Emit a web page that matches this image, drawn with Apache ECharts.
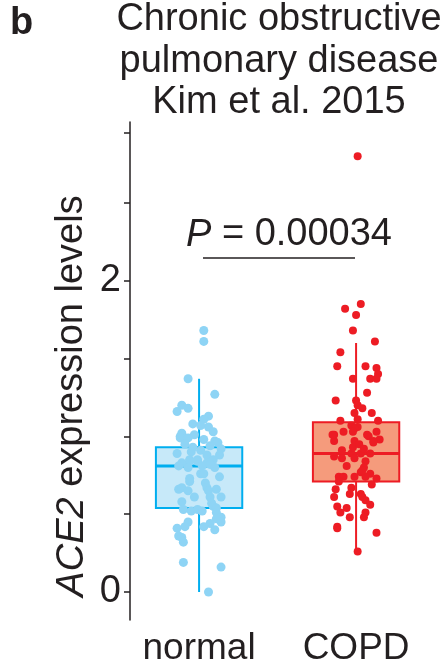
<!DOCTYPE html>
<html>
<head>
<meta charset="utf-8">
<script src="https://cdn.jsdelivr.net/npm/echarts@6/dist/echarts.min.js"></script>
<style>
  html, body { margin: 0; padding: 0; background: #fff; }
  #main { width: 447px; height: 671px; }
</style>
</head>
<body>
<div id="main"></div>
<script>
// groups on the x axis (1 = normal, 2 = COPD)
const categories = ['normal', 'COPD'];
// box stats: [x, lower whisker, Q1, median, Q3, upper whisker]
const normalBox = [1, 0.0, 0.54, 0.81, 0.93, 1.37];
const copdBox = [2, 0.26, 0.71, 0.89, 1.09, 1.60];
// jittered points: [x offset from group centre, ACE2 level]
const normalPoints = [
  [0.03, 1.68], [0.03, 1.61], [-0.07, 1.37], [0.10, 1.27], [-0.11, 1.20], [-0.07, 1.18],
  [-0.14, 1.16], [0.06, 1.13], [0.03, 1.11], [-0.04, 1.08], [0.01, 1.07], [0.06, 1.06],
  [0.09, 1.03], [-0.11, 1.02], [-0.03, 1.01], [-0.12, 1.00], [-0.12, 0.99], [-0.07, 0.99],
  [0.03, 0.98], [0.10, 0.97], [0.12, 0.96], [-0.09, 0.95], [-0.04, 0.93], [0.07, 0.94],
  [0.14, 0.92], [-0.14, 0.89], [-0.05, 0.90], [0.01, 0.91], [0.13, 0.88], [0.05, 0.88],
  [-0.06, 0.85], [-0.01, 0.85], [-0.11, 0.83], [-0.06, 0.84], [-0.01, 0.84], [0.05, 0.83],
  [0.09, 0.85], [0.10, 0.80], [-0.13, 0.81], [-0.07, 0.80], [0.02, 0.81], [0.07, 0.82],
  [0.01, 0.76], [0.03, 0.76], [0.13, 0.74], [-0.06, 0.73], [-0.06, 0.71], [0.04, 0.70],
  [-0.13, 0.66], [-0.11, 0.67], [-0.07, 0.65], [0.05, 0.67], [0.11, 0.66], [0.06, 0.65],
  [-0.03, 0.61], [0.07, 0.61], [0.14, 0.61], [-0.11, 0.58], [0.08, 0.57], [0.09, 0.55],
  [0.11, 0.54], [-0.10, 0.53], [-0.05, 0.52], [-0.01, 0.53], [0.02, 0.52], [0.11, 0.51],
  [0.14, 0.48], [0.11, 0.47], [0.14, 0.45], [-0.07, 0.45], [-0.09, 0.42], [0.07, 0.44],
  [0.03, 0.42], [-0.14, 0.41], [0.10, 0.40], [-0.13, 0.36], [-0.11, 0.35], [-0.10, 0.32],
  [-0.10, 0.19], [0.14, 0.16], [0.06, 0.00]
];
const copdPoints = [
  [0.01, 2.80], [0.03, 1.85], [-0.07, 1.82], [0.00, 1.78], [-0.02, 1.68], [0.12, 1.61],
  [-0.10, 1.54], [-0.12, 1.45], [0.06, 1.45], [0.13, 1.44], [0.14, 1.40], [-0.02, 1.37],
  [0.09, 1.37], [0.13, 1.37], [0.07, 1.28], [-0.13, 1.23], [0.00, 1.23], [0.01, 1.20],
  [0.04, 1.18], [-0.01, 1.15], [0.10, 1.15], [-0.10, 1.10], [0.01, 1.11], [0.14, 1.10],
  [-0.03, 1.07], [0.01, 1.06], [-0.01, 1.05], [-0.08, 1.03], [-0.14, 1.01], [-0.02, 1.03],
  [0.13, 1.03], [0.08, 1.00], [0.15, 0.98], [-0.14, 0.97], [-0.01, 0.97], [0.11, 0.97],
  [-0.09, 0.91], [-0.14, 0.87], [-0.09, 0.86], [-0.03, 0.89], [0.03, 0.89], [0.09, 0.89],
  [-0.01, 0.86], [0.06, 0.84], [-0.06, 0.81], [0.05, 0.80], [0.03, 0.77], [0.09, 0.76],
  [-0.11, 0.74], [-0.08, 0.74], [-0.01, 0.74], [0.06, 0.74], [0.13, 0.73], [0.10, 0.69],
  [-0.03, 0.67], [-0.13, 0.66], [0.03, 0.63], [-0.04, 0.63], [0.04, 0.61], [-0.14, 0.61],
  [0.06, 0.59], [0.09, 0.56], [-0.12, 0.55], [-0.06, 0.54], [-0.10, 0.51], [0.06, 0.51],
  [-0.04, 0.48], [0.05, 0.48], [-0.12, 0.42], [-0.12, 0.41], [0.13, 0.38], [0.01, 0.26],
  [-0.15, 1.01], [0.07, 1.01], [0.11, 0.96], [0.04, 0.78], [-0.11, 0.71], [-0.02, 0.93],
  [0.02, 0.95], [0.05, 0.92]
];
// y axis ticks and labels
const yTicks = [0, 0.5, 1, 1.5, 2, 2.5, 2.95];
const yLabels = [0, 2];
const pValue = '0.00034';

const boxWidth = 0.55;
const dark = '#231f20';
const font = 'Liberation Sans';

function boxRenderer(stroke, fill) {
  return function (params, api) {
    const x = api.value(0);
    const lo = api.coord([x, api.value(1)]);
    const q1 = api.coord([x, api.value(2)]);
    const md = api.coord([x, api.value(3)]);
    const q3 = api.coord([x, api.value(4)]);
    const hi = api.coord([x, api.value(5)]);
    const half = api.size([boxWidth, 0])[0] / 2;
    return {
      type: 'group',
      children: [
        { type: 'line', shape: { x1: lo[0], y1: lo[1], x2: q1[0], y2: q1[1] }, style: { stroke: stroke, lineWidth: 2 } },
        { type: 'line', shape: { x1: q3[0], y1: q3[1], x2: hi[0], y2: hi[1] }, style: { stroke: stroke, lineWidth: 2 } },
        { type: 'rect', shape: { x: q3[0] - half, y: q3[1], width: half * 2, height: q1[1] - q3[1] }, style: { fill: fill, stroke: stroke, lineWidth: 2 } },
        { type: 'line', shape: { x1: md[0] - half, y1: md[1], x2: md[0] + half, y2: md[1] }, style: { stroke: stroke, lineWidth: 3 } }
      ]
    };
  };
}

let myChart = echarts.init(document.getElementById('main'));
let option = {
  animation: false,
  grid: { left: 130, right: 3, top: 122, bottom: 51 },
  xAxis: {
    type: 'value',
    min: 0.56,
    max: 2.56,
    axisLine: { show: false },
    axisTick: { show: false },
    splitLine: { show: false },
    axisLabel: {
      customValues: [1, 2],
      formatter: v => categories[Math.round(v) - 1],
      fontFamily: font,
      fontSize: 37,
      color: dark,
      margin: 10
    }
  },
  yAxis: {
    type: 'value',
    min: -0.18,
    max: 3.02,
    splitLine: { show: false },
    axisLine: { show: true, lineStyle: { color: dark, width: 1.5 } },
    axisTick: { show: true, customValues: yTicks, length: 6, lineStyle: { color: dark, width: 1.5 } },
    axisLabel: {
      customValues: yLabels,
      fontFamily: font,
      fontSize: 38,
      color: dark,
      margin: 9
    }
  },
  series: [
    {
      type: 'custom',
      renderItem: boxRenderer('#00aeef', '#c7e9f9'),
      data: [normalBox],
      z: 1
    },
    {
      type: 'custom',
      renderItem: boxRenderer('#ed1c24', '#f59b7c'),
      data: [copdBox],
      z: 1
    },
    {
      type: 'scatter',
      symbolSize: 9,
      itemStyle: { color: '#8ed4f5', opacity: 1 },
      data: normalPoints.map(p => [1 + p[0], p[1]]),
      z: 3
    },
    {
      type: 'scatter',
      symbolSize: 8,
      itemStyle: { color: '#ed1c24', opacity: 1 },
      data: copdPoints.map(p => [2 + p[0], p[1]]),
      markLine: {
        silent: true,
        symbol: 'none',
        label: { show: false },
        lineStyle: { color: dark, width: 1.5, type: 'solid' },
        data: [[{ coord: [1.025, 2.15] }, { coord: [1.993, 2.15] }]]
      },
      z: 3
    }
  ],
  graphic: [
    { type: 'text', left: 10, top: 5, style: { text: 'b', font: 'bold 38px ' + font, fill: dark } },
    { type: 'text', x: 279, y: 20, style: { text: 'Chronic obstructive', font: '38px ' + font, fill: dark, align: 'center', verticalAlign: 'middle' } },
    { type: 'text', x: 279, y: 62, style: { text: 'pulmonary disease', font: '38px ' + font, fill: dark, align: 'center', verticalAlign: 'middle' } },
    { type: 'text', x: 279, y: 103, style: { text: 'Kim et al. 2015', font: '38px ' + font, fill: dark, align: 'center', verticalAlign: 'middle' } },
    {
      type: 'text', x: 289, y: 235,
      style: {
        text: '{i|P} = ' + pValue,
        font: '38px ' + font, fill: dark, align: 'center', verticalAlign: 'middle',
        rich: { i: { fontStyle: 'italic', fontFamily: font, fontSize: 38, fill: dark } }
      }
    },
    {
      type: 'text', x: 72, y: 396, rotation: Math.PI / 2,
      style: {
        text: '{i|ACE2} expression levels',
        font: '38px ' + font, fill: dark, align: 'center', verticalAlign: 'middle',
        rich: { i: { fontStyle: 'italic', fontFamily: font, fontSize: 38, fill: dark } }
      }
    }
  ]
};
option && myChart.setOption(option);
</script>
</body>
</html>
